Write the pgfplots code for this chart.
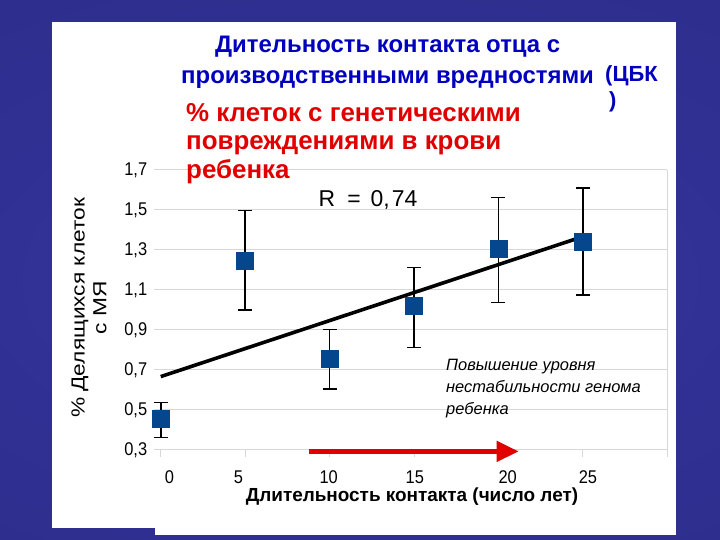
\documentclass[border=0pt]{standalone}
\usepackage{fontspec}
\setmainfont{Liberation Sans}
\usepackage{pgfplots}
\usepackage{pgfplotstable}
\pgfplotsset{compat=1.18}
\usetikzlibrary{arrows.meta}
\definecolor{bgdark}{RGB}{20,20,55}
\definecolor{bgmid}{RGB}{28,28,82}
\definecolor{bgbright}{RGB}{46,46,142}
\definecolor{bglight}{RGB}{52,52,158}
\definecolor{titleblue}{RGB}{0,0,190}
\definecolor{textred}{RGB}{225,0,0}
\definecolor{markblue}{RGB}{5,70,140}
\definecolor{gridgray}{RGB}{215,215,215}
\pgfdeclareradialshading{bgshade}{\pgfpoint{0bp}{0bp}}{color(0bp)=(bglight); color(30bp)=(bgbright); color(50bp)=(bgmid); color(72bp)=(bgdark)}
\newcommand\tl[1]{\scalebox{1}[1.12]{#1}}

\pgfplotstableread{
x  y     ep    em
0  0.458 0.080 0.096
5  1.247 0.250 0.247
10 0.758 0.145 0.153
15 1.022 0.191 0.210
20 1.305 0.257 0.268
25 1.343 0.267 0.268
}\datatable

\begin{document}
\begin{tikzpicture}[x=1bp,y=1bp]
\useasboundingbox (0,0) rectangle (720,540);
\begin{scope}
\clip (0,0) rectangle (720,540);
\shade[shading=bgshade] (-170,-20) rectangle (890,540);
\end{scope}
\fill[white] (155,5) rectangle (676,20);
\fill[white] (52,12) rectangle (676,518);

\node[anchor=base west, inner sep=0, font=\fontsize{24}{28}\selectfont\bfseries, text=titleblue] at (215,487) {Дительность контакта отца с};
\node[anchor=base west, inner sep=0, font=\fontsize{24}{28}\selectfont\bfseries, text=titleblue] at (181,456) {производственными вредностями};
\node[anchor=base west, inner sep=0, font=\fontsize{22}{28}\selectfont\bfseries, text=titleblue] at (605,458) {(ЦБК};
\node[anchor=base west, inner sep=0, font=\fontsize{22}{28}\selectfont\bfseries, text=titleblue] at (609,432) {)};

\begin{axis}[
  at={(160.7bp,90bp)}, anchor=south west,
  scale only axis, width=506.6bp, height=280bp,
  xmin=0, xmax=30, ymin=0.3, ymax=1.7,
  xtick={0.52,4.6,9.95,15.05,20.55,25.3},
  xticklabels={\tl{0},\tl{5},\tl{10},\tl{15},\tl{20},\tl{25}},
  minor xtick={0,5,...,30},
  ytick={0.3,0.5,...,1.7},
  yticklabels={\tl{0,3},\tl{0,5},\tl{0,7},\tl{0,9},\tl{1,1},\tl{1,3},\tl{1,5},\tl{1,7}},
  xtick pos=bottom, ytick pos=left,
  axis line style={draw=none},
  ymajorgrids, grid style={gridgray, line width=1bp},
  tick style={gridgray, line width=1bp},
  every major x tick/.style={draw=none},
  tick align=outside, major tick length=7bp, minor tick length=7bp,
  ticklabel style={font=\fontsize{16.5}{20}\selectfont},
  yticklabel style={xshift=-3bp},
  xticklabel style={yshift=-10bp},
  clip=false,
]
\draw[gridgray, line width=1bp] (rel axis cs:1,0) -- (rel axis cs:1,1);
\draw[gridgray, line width=1bp] (rel axis cs:0,0) -- (rel axis cs:1,0);
\addplot+[only marks, mark=square*, mark size=8.5bp, color=markblue, mark options={fill=markblue, draw=markblue},
  error bars/.cd, y dir=both, y explicit,
  error bar style={black, line width=1.6bp},
  error mark options={rotate=90, mark size=7bp, black, line width=1.6bp}]
  table[x=x, y=y, y error plus=ep, y error minus=em] {\datatable};
\addplot[black, line width=3.6bp] coordinates {(0,0.667) (25,1.367)};
\draw[textred, line width=4.5bp, -{Triangle[length=22bp, width=20bp]}] (axis cs:8.77,0.293) -- (axis cs:21.2,0.293);
\end{axis}

\node[anchor=base west, inner sep=0, font=\fontsize{26}{28}\selectfont\bfseries, text=textred] at (186,418) {\% клеток с генетическими};
\node[anchor=base west, inner sep=0, font=\fontsize{26}{28}\selectfont\bfseries, text=textred] at (186,390) {повреждениями в крови};
\node[anchor=base west, inner sep=0, font=\fontsize{26}{28}\selectfont\bfseries, text=textred] at (186,361) {ребенка};

\node[font=\fontsize{23}{26}\selectfont] at (368,340) {R\hspace{12bp}=\hspace{10bp}0,\hspace{2bp}74};
\node[anchor=north west, align=left, inner sep=0, font=\itshape\fontsize{16.5}{22}\selectfont] at (446,181) {Повышение уровня\\нестабильности генома\\ребенка};
\node[font=\fontsize{19}{22}\selectfont\bfseries] at (412,43) {Длительность контакта (число лет)};
\node[rotate=90, align=center, font=\fontsize{19}{22}\selectfont] at (89,232) {\scalebox{1.2}[1]{\% Делящихся клеток}\\\scalebox{1.2}[1]{с МЯ}};
\end{tikzpicture}
\end{document}
